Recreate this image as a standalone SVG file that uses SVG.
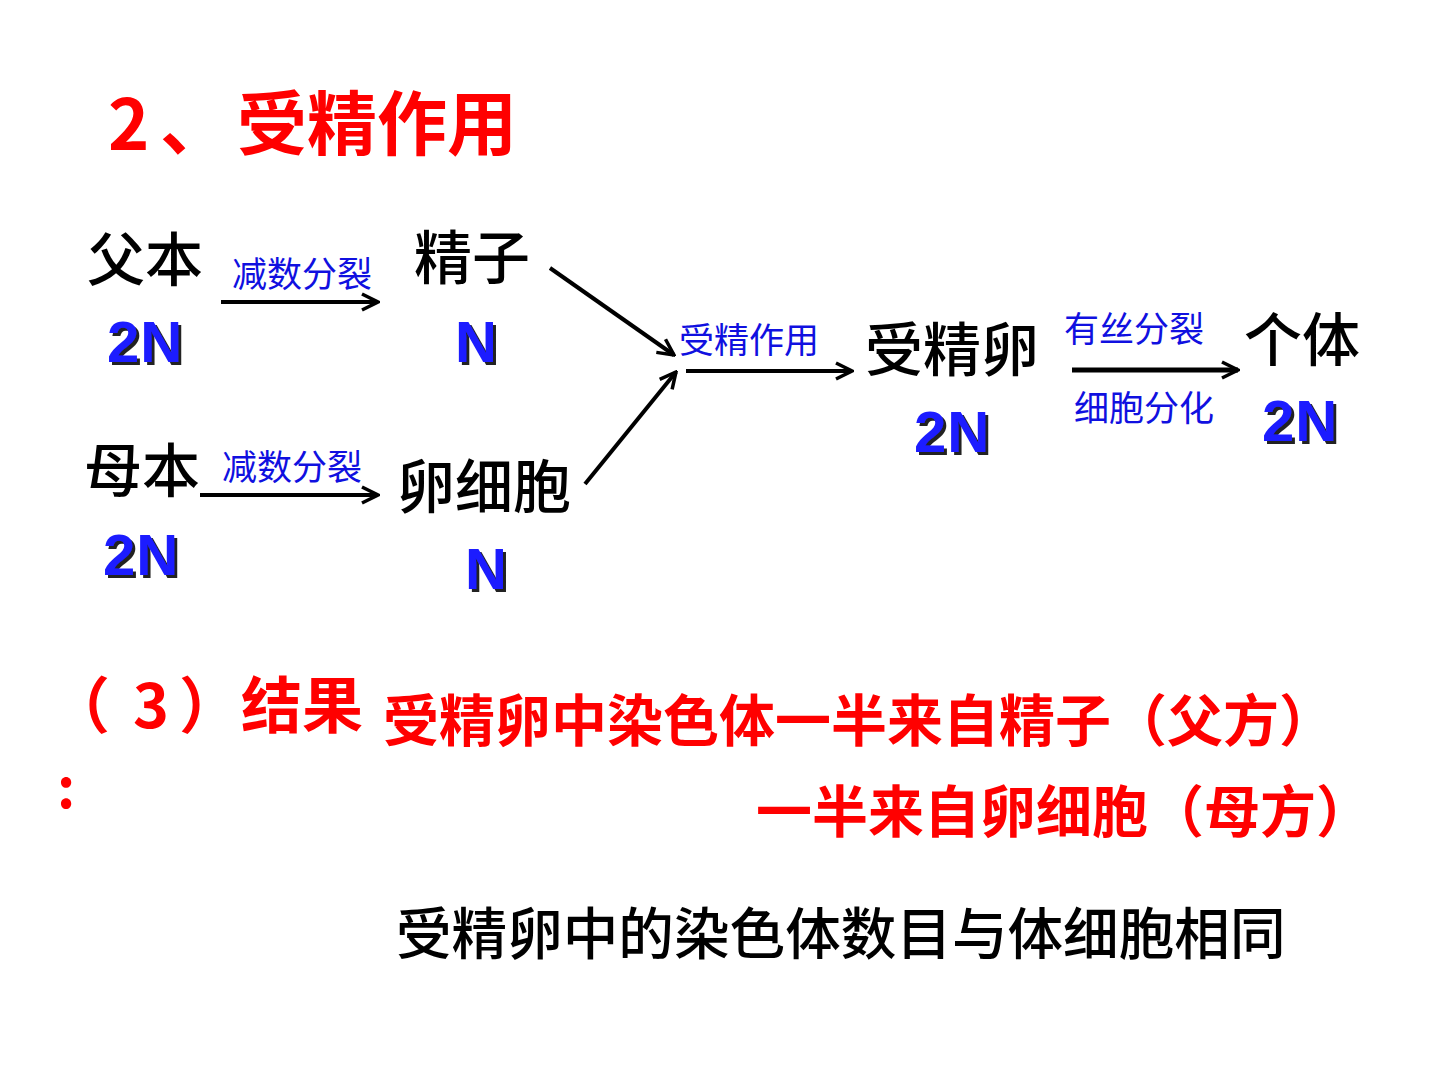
<svg xmlns="http://www.w3.org/2000/svg" width="1440" height="1080" viewBox="0 0 1440 1080">
<style>
.node{font-family:"Noto Sans CJK SC","Noto Sans",sans-serif;font-size:58px;font-weight:500;fill:#000}
.bottom{font-family:"Noto Sans CJK SC","Noto Sans",sans-serif;font-size:55.6px;font-weight:500;fill:#000}
.lbl{font-family:"Noto Sans CJK SC","Noto Sans",sans-serif;font-size:35px;fill:#1010e0}
.red{font-family:"Noto Sans CJK SC","Noto Sans",sans-serif;font-weight:700;fill:#ff0000}
.n{font-family:"Liberation Sans",Arial,sans-serif;font-weight:700;font-size:58px;letter-spacing:1px;fill:#1a1aff;filter:url(#sh)}
.conn line{stroke:#000;stroke-width:4;marker-end:url(#arr)}
</style>
<defs>
<filter id="sh" x="-20%" y="-20%" width="150%" height="150%">
<feOffset in="SourceAlpha" dx="3" dy="3" result="o"/>
<feFlood flood-color="#222"/>
<feComposite in2="o" operator="in"/>
<feMerge><feMergeNode/><feMergeNode in="SourceGraphic"/></feMerge>
</filter>
<marker id="arr" viewBox="0 0 20 20" refX="18" refY="10" markerWidth="20" markerHeight="20" markerUnits="userSpaceOnUse" orient="auto">
<path d="M2,2 L18,10 L2,18" fill="none" stroke="#000" stroke-width="3.5"/>
</marker>
</defs>
<rect width="1440" height="1080" fill="#fff"/>
<g id="title">
<text class="red" font-size="70" y="150"><tspan x="108">2</tspan><tspan x="160">、</tspan><tspan x="237">受精作用</tspan></text>
</g>
<g id="father">
<text class="node" x="87" y="281">父本</text>
<text class="n" x="107" y="362">2N</text>
</g>
<g id="sperm">
<text class="node" x="414" y="279">精子</text>
<text class="n" x="455" y="362">N</text>
</g>
<g id="mother">
<text class="node" x="84" y="492">母本</text>
<text class="n" x="103" y="575">2N</text>
</g>
<g id="egg">
<text class="node" x="397" y="508">卵细胞</text>
<text class="n" x="465" y="589">N</text>
</g>
<g id="zygote">
<text class="node" x="865" y="371">受精卵</text>
<text class="n" x="914" y="452">2N</text>
</g>
<g id="individual">
<text class="node" x="1244" y="361">个体</text>
<text class="n" x="1262" y="441">2N</text>
</g>
<g id="connectors" class="conn">
<line x1="221" y1="302" x2="378" y2="302"/>
<line x1="200" y1="495" x2="378" y2="495"/>
<line x1="550" y1="268" x2="674" y2="355"/>
<line x1="585" y1="484" x2="676" y2="372"/>
<line x1="686" y1="371" x2="852" y2="371"/>
<line x1="1072" y1="370" x2="1238" y2="370" style="stroke-width:5"/>
</g>
<g id="labels">
<text class="lbl" x="232" y="287">减数分裂</text>
<text class="lbl" x="222" y="480">减数分裂</text>
<text class="lbl" x="679" y="353">受精作用</text>
<text class="lbl" x="1064" y="342">有丝分裂</text>
<text class="lbl" x="1074" y="421">细胞分化</text>
</g>
<g id="result">
<text class="red" font-size="61" y="728"><tspan x="49">（</tspan><tspan x="133">3</tspan><tspan x="179">）</tspan><tspan x="241">结果</tspan></text>
<text class="red" font-family="Liberation Sans" font-size="56" x="57" y="808">:</text>
<text class="red" font-size="56" x="383" y="741">受精卵中染色体一半来自精子（父方）</text>
<text class="red" font-size="56" x="756" y="832">一半来自卵细胞（母方）</text>
<text class="bottom" x="396" y="954">受精卵中的染色体数目与体细胞相同</text>
</g>
</svg>
